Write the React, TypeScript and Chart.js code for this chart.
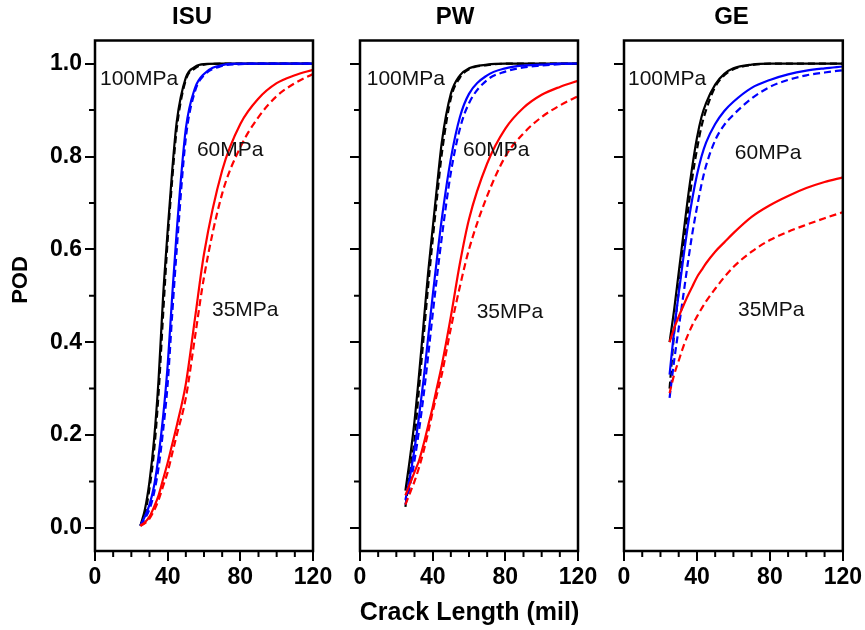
import React, { useEffect, useRef } from 'react';
import { Chart, registerables } from 'chart.js';

Chart.register(...registerables);

// ---------------- data ----------------
const crackLength = [25, 27.5, 30, 32.5, 35, 37.5, 40, 42.5, 45, 50, 55, 60, 70, 80, 90, 100, 110, 120];

// ISU
const isu100Solid = [0.005, 0.04, 0.10, 0.19, 0.32, 0.50, 0.64, 0.77, 0.875, 0.97, 0.993, 0.999, 1, 1, 1, 1, 1, 1];
const isu100Dashed = [0.004, 0.03, 0.085, 0.165, 0.29, 0.46, 0.62, 0.75, 0.86, 0.965, 0.99, 0.998, 1, 1, 1, 1, 1, 1];
const isu60Solid = [0.005, 0.025, 0.05, 0.09, 0.155, 0.24, 0.35, 0.50, 0.64, 0.86, 0.947, 0.978, 0.997, 1, 1, 1, 1, 1];
const isu60Dashed = [0.004, 0.02, 0.04, 0.075, 0.13, 0.21, 0.31, 0.46, 0.60, 0.84, 0.94, 0.975, 0.995, 0.999, 1, 1, 1, 1];
const isu35Solid = [0.005, 0.012, 0.024, 0.045, 0.07, 0.105, 0.14, 0.18, 0.22, 0.31, 0.45, 0.59, 0.77, 0.87, 0.925, 0.958, 0.975, 0.987];
const isu35Dashed = [0.004, 0.01, 0.02, 0.037, 0.06, 0.09, 0.12, 0.16, 0.20, 0.28, 0.41, 0.54, 0.72, 0.82, 0.885, 0.93, 0.958, 0.978];

// PW
const pw100Solid = [0.08, 0.15, 0.23, 0.33, 0.44, 0.55, 0.645, 0.74, 0.83, 0.935, 0.975, 0.99, 0.998, 1, 1, 1, 1, 1];
const pw100Dashed = [0.045, 0.12, 0.19, 0.30, 0.41, 0.52, 0.62, 0.715, 0.805, 0.925, 0.97, 0.988, 0.997, 1, 1, 1, 1, 1];
const pw60Solid = [0.06, 0.11, 0.17, 0.24, 0.32, 0.41, 0.50, 0.585, 0.665, 0.795, 0.885, 0.935, 0.975, 0.99, 0.996, 0.998, 1, 1];
const pw60Dashed = [0.05, 0.09, 0.145, 0.21, 0.285, 0.37, 0.46, 0.545, 0.625, 0.765, 0.86, 0.915, 0.965, 0.983, 0.992, 0.996, 0.999, 1];
const pw35Solid = [0.07, 0.095, 0.12, 0.145, 0.18, 0.22, 0.26, 0.305, 0.35, 0.455, 0.57, 0.665, 0.785, 0.86, 0.905, 0.933, 0.95, 0.963];
const pw35Dashed = [0.05, 0.075, 0.10, 0.13, 0.165, 0.205, 0.25, 0.29, 0.33, 0.43, 0.52, 0.60, 0.715, 0.80, 0.85, 0.885, 0.91, 0.93];

// GE
const ge100Solid = [0.40, 0.47, 0.55, 0.63, 0.71, 0.78, 0.84, 0.885, 0.915, 0.955, 0.978, 0.99, 0.998, 1, 1, 1, 1, 1];
const ge100Dashed = [0.30, 0.42, 0.51, 0.60, 0.68, 0.755, 0.815, 0.865, 0.9, 0.95, 0.975, 0.988, 0.997, 1, 1, 1, 1, 1];
const ge60Solid = [0.33, 0.425, 0.505, 0.58, 0.65, 0.71, 0.76, 0.80, 0.83, 0.87, 0.898, 0.918, 0.948, 0.965, 0.977, 0.985, 0.99, 0.994];
const ge60Dashed = [0.28, 0.36, 0.43, 0.50, 0.57, 0.635, 0.69, 0.74, 0.78, 0.835, 0.868, 0.89, 0.925, 0.95, 0.965, 0.975, 0.981, 0.986];
const ge35Solid = [0.40, 0.43, 0.455, 0.478, 0.50, 0.52, 0.54, 0.555, 0.57, 0.595, 0.615, 0.635, 0.67, 0.695, 0.715, 0.732, 0.745, 0.755];
const ge35Dashed = [0.29, 0.33, 0.36, 0.39, 0.415, 0.437, 0.455, 0.472, 0.488, 0.515, 0.54, 0.562, 0.595, 0.62, 0.638, 0.653, 0.667, 0.68];

const xTickValues = [0, 40, 80, 120];
const xMinorTicks = [10, 20, 30, 50, 60, 70, 90, 100, 110];
const yTickValues = [0, 0.2, 0.4, 0.6, 0.8, 1.0];
const yMinorTicks = [0.1, 0.3, 0.5, 0.7, 0.9];
const stressLabels = ['100MPa', '60MPa', '35MPa'];
const panelNames = ['ISU', 'PW', 'GE'];
const xAxisTitle = 'Crack Length (mil)';
const yAxisTitle = 'POD';

// ---------------- styling / layout ----------------
const FONT = '"Liberation Sans", Arial, Helvetica, sans-serif';
const CW = 865;
const CH = 630;
const AREA_TOP = 40.5;
const AREA_BOTTOM = 551;
const X_AXIS_H = 40;
const COLORS = ['#000000', '#0000ff', '#ff0000'];

type Panel = {
  name: string;
  left: number;
  right: number;
  titleX: number;
  yAxisW: number;
  showYLabels: boolean;
  solid: number[][];
  dashed: number[][];
  labelPos: number[][];
};

const panels: Panel[] = [
  {
    name: panelNames[0], left: 95, right: 313, titleX: 192, yAxisW: 60, showYLabels: true,
    solid: [isu100Solid, isu60Solid, isu35Solid],
    dashed: [isu100Dashed, isu60Dashed, isu35Dashed],
    labelPos: [[2.75, 0.966], [56.1, 0.814], [64.4, 0.468]],
  },
  {
    name: panelNames[1], left: 360, right: 578, titleX: 455, yAxisW: 12, showYLabels: false,
    solid: [pw100Solid, pw60Solid, pw35Solid],
    dashed: [pw100Dashed, pw60Dashed, pw35Dashed],
    labelPos: [[3.7, 0.966], [56.7, 0.814], [64.2, 0.464]],
  },
  {
    name: panelNames[2], left: 624, right: 843, titleX: 731.5, yAxisW: 12, showYLabels: false,
    solid: [ge100Solid, ge60Solid, ge35Solid],
    dashed: [ge100Dashed, ge60Dashed, ge35Dashed],
    labelPos: [[2.2, 0.966], [60.8, 0.807], [62.5, 0.468]],
  },
];

function makeDecor(p: Panel, idx: number) {
  return {
    id: 'decor' + idx,
    afterDatasetsDraw(chart: any) {
      const ctx = chart.ctx;
      const a = chart.chartArea;
      const xs = chart.scales.x;
      const ys = chart.scales.y;
      ctx.save();
      // minor ticks
      ctx.strokeStyle = '#000';
      ctx.lineWidth = 2;
      ctx.beginPath();
      xMinorTicks.forEach((v) => {
        const px = xs.getPixelForValue(v);
        ctx.moveTo(px, a.bottom);
        ctx.lineTo(px, a.bottom + 6);
      });
      yMinorTicks.forEach((v) => {
        const py = ys.getPixelForValue(v);
        ctx.moveTo(a.left, py);
        ctx.lineTo(a.left - 6, py);
      });
      ctx.stroke();
      // frame
      ctx.lineWidth = 2.5;
      ctx.strokeRect(a.left, a.top, a.right - a.left, a.bottom - a.top);
      // stress labels
      ctx.fillStyle = '#111';
      ctx.font = `21px ${FONT}`;
      ctx.textAlign = 'left';
      ctx.textBaseline = 'middle';
      p.labelPos.forEach((pos, i) => {
        ctx.fillText(stressLabels[i], xs.getPixelForValue(pos[0]), ys.getPixelForValue(pos[1]));
      });
      // panel title
      ctx.fillStyle = '#000';
      ctx.font = `bold 24px ${FONT}`;
      ctx.textAlign = 'center';
      ctx.fillText(p.name, p.titleX, 17);
      if (idx === 0) {
        ctx.save();
        ctx.translate(21, 280);
        ctx.rotate(-Math.PI / 2);
        ctx.font = `bold 22px ${FONT}`;
        ctx.fillText(yAxisTitle, 0, 0);
        ctx.restore();
      }
      if (idx === 1) {
        ctx.font = `bold 25px ${FONT}`;
        ctx.fillText(xAxisTitle, 469.5, 613);
      }
      ctx.restore();
    },
  };
}

function PanelChart({ p, idx }: { p: Panel; idx: number }) {
  const ref = useRef<HTMLCanvasElement>(null);
  useEffect(() => {
    if (!ref.current) return;
    const datasets: any[] = [];
    [2, 1, 0].forEach((k) => {
      datasets.push({
        data: crackLength.map((x, i) => ({ x, y: p.solid[k][i] })),
        borderColor: COLORS[k],
        borderWidth: 2.2,
        pointRadius: 0,
        fill: false,
        cubicInterpolationMode: 'monotone',
      });
      datasets.push({
        data: crackLength.map((x, i) => ({ x, y: p.dashed[k][i] })),
        borderColor: COLORS[k],
        borderWidth: 2.2,
        borderDash: [7, 4],
        pointRadius: 0,
        fill: false,
        cubicInterpolationMode: 'monotone',
      });
    });
    const tickFont = { family: FONT, size: 23, weight: 'bold' as const };
    const chart = new Chart(ref.current, {
      type: 'line',
      data: { datasets },
      options: {
        animation: false,
        responsive: false,
        maintainAspectRatio: false,
        devicePixelRatio: 1,
        events: [],
        layout: {
          padding: {
            left: p.left - p.yAxisW,
            right: CW - p.right,
            top: AREA_TOP,
            bottom: CH - AREA_BOTTOM - X_AXIS_H,
          },
        },
        plugins: {
          legend: { display: false },
          tooltip: { enabled: false },
          title: { display: false },
        },
        scales: {
          x: {
            type: 'linear',
            min: 0,
            max: 120,
            afterBuildTicks: (s: any) => {
              s.ticks = xTickValues.map((v) => ({ value: v }));
            },
            afterFit: (s: any) => {
              s.height = X_AXIS_H;
            },
            grid: { drawOnChartArea: false, drawTicks: true, tickLength: 10, color: '#000', lineWidth: 2 },
            border: { display: false },
            ticks: {
              autoSkip: false,
              maxRotation: 0,
              padding: 3,
              color: '#000',
              font: tickFont,
              callback: (v: any) => String(v),
            },
          },
          y: {
            type: 'linear',
            min: -0.05,
            max: 1.05,
            afterBuildTicks: (s: any) => {
              s.ticks = yTickValues.map((v) => ({ value: v }));
            },
            afterFit: (s: any) => {
              s.width = p.yAxisW;
            },
            grid: { drawOnChartArea: false, drawTicks: true, tickLength: 10, color: '#000', lineWidth: 2 },
            border: { display: false },
            ticks: {
              autoSkip: false,
              padding: 3,
              color: '#000',
              font: tickFont,
              callback: (v: any) => (p.showYLabels ? Number(v).toFixed(1) : ''),
            },
          },
        },
      },
      plugins: [makeDecor(p, idx)],
    });
    return () => chart.destroy();
  }, [p, idx]);
  return (
    <canvas
      ref={ref}
      width={CW}
      height={CH}
      style={{ position: 'absolute', left: 0, top: 0, width: CW, height: CH }}
    />
  );
}

export default function App() {
  return (
    <div style={{ position: 'absolute', left: 0, top: 0, width: CW, height: CH, background: '#fff' }}>
      {panels.map((p, i) => (
        <PanelChart key={p.name} p={p} idx={i} />
      ))}
    </div>
  );
}
